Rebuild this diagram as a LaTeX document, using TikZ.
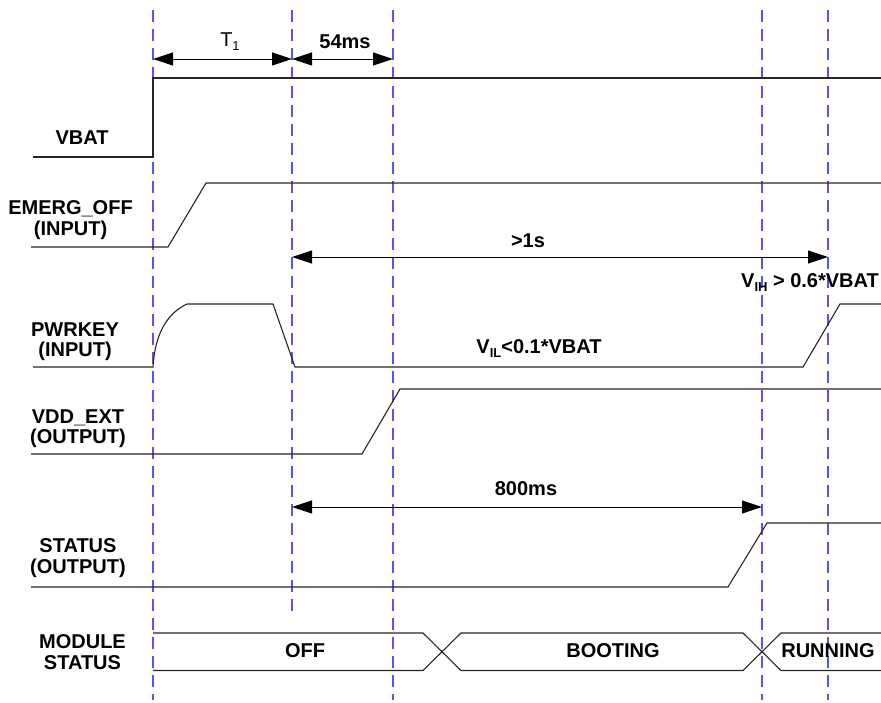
\documentclass[tikz,border=0pt]{standalone}
\usepackage{fontspec}
\setmainfont{Liberation Sans}
\usetikzlibrary{arrows.meta}
\definecolor{guideblue}{RGB}{85,85,245}
\begin{document}
\begin{tikzpicture}[x=1pt,y=-1pt,
  sig/.style={line width=1.1pt, black!85},
  guide/.style={draw=guideblue, line width=1.4pt, dash pattern=on 12pt off 7pt},
  dim/.style={line width=1pt, {Triangle[length=20pt,width=13pt]}-{Triangle[length=20pt,width=13pt]}},
  lbl/.style={font=\fontsize{20}{20.5}\selectfont\bfseries, align=center, inner sep=0pt},
  plain/.style={font=\fontsize{20}{20.5}\selectfont, align=center, inner sep=0pt},
]
\useasboundingbox (0,0) rectangle (881,702);

% guide lines
\coordinate (g1t) at (153,10);  \coordinate (g1b) at (153,700);
\coordinate (g2t) at (292,10);  \coordinate (g2b) at (292,611);
\coordinate (g3t) at (393,10);  \coordinate (g3b) at (393,700);
\coordinate (g4t) at (762,10);  \coordinate (g4b) at (762,700);
\coordinate (g5t) at (828,10);  \coordinate (g5b) at (828,700);
\foreach \g in {g1,g2,g3,g4,g5} {\draw[guide] (\g t) -- (\g b);}

% signals
\draw[sig] (33,157) -- (153,157) -- (153,78) -- (881,78);
\draw[sig] (31,247) -- (168,247) -- (206,183) -- (881,183);
\draw[sig] (33,367) -- (153,367) .. controls (155,335) and (166,314) .. (187,304) -- (273,304) -- (295,367) -- (803,367) -- (840,304) -- (881,304);
\draw[sig] (31,454) -- (362,454) -- (400,389) -- (881,389);
\draw[sig] (31,587) -- (728,587) -- (767,523) -- (881,523);

% module status bus
\draw[sig] (153,633) -- (423,633) -- (461,670.5) -- (743,670.5) -- (781,633) -- (881,633);
\draw[sig] (153,670.5) -- (423,670.5) -- (461,633) -- (743,633) -- (781,670.5) -- (881,670.5);

% dimension arrows
\coordinate (t1a) at (153,59);  \coordinate (t1b) at (292,59);
\coordinate (t2a) at (292,59);  \coordinate (t2b) at (393,59);
\coordinate (t3a) at (292,257); \coordinate (t3b) at (828,257);
\coordinate (t4a) at (292,507); \coordinate (t4b) at (762,507);
\draw[dim] (t1a) -- (t1b);
\draw[dim] (t2a) -- (t2b);
\draw[dim] (t3a) -- (t3b);
\draw[dim] (t4a) -- (t4b);

% dimension labels
\node[plain] (lt1) at (230,42) {T\raisebox{-4pt}{\fontsize{13}{13}\selectfont 1}};
\node[lbl] (l54) at (345,42) {54ms};
\node[lbl] (l1s) at (528,241) {>1s};
\node[lbl] (l800) at (526,489) {800ms};
\node[lbl] (lvih) at (810,283) {V\raisebox{-4pt}{\fontsize{13}{13}\selectfont IH} > 0.6*VBAT};
\node[lbl] (lvil) at (539,349) {V\raisebox{-4pt}{\fontsize{13}{13}\selectfont IL}<0.1*VBAT};

% bus labels
\node[lbl] (soff) at (305,651) {OFF};
\node[lbl] (sboot) at (613,651) {BOOTING};
\node[lbl] (srun) at (828,651) {RUNNING};

% signal names
\node[lbl] (nvbat) at (82,138) {VBAT};
\node[lbl] (nemerg) at (70.5,220) {EMERG\_OFF\\(INPUT)};
\node[lbl] (npwr) at (75,341.5) {PWRKEY\\(INPUT)};
\node[lbl] (nvdd) at (78,428.5) {VDD\_EXT\\(OUTPUT)};
\node[lbl] (nstat) at (78,558) {STATUS\\(OUTPUT)};
\node[lbl] (nmod) at (82.5,652) {MODULE\\STATUS};
\end{tikzpicture}
\end{document}
